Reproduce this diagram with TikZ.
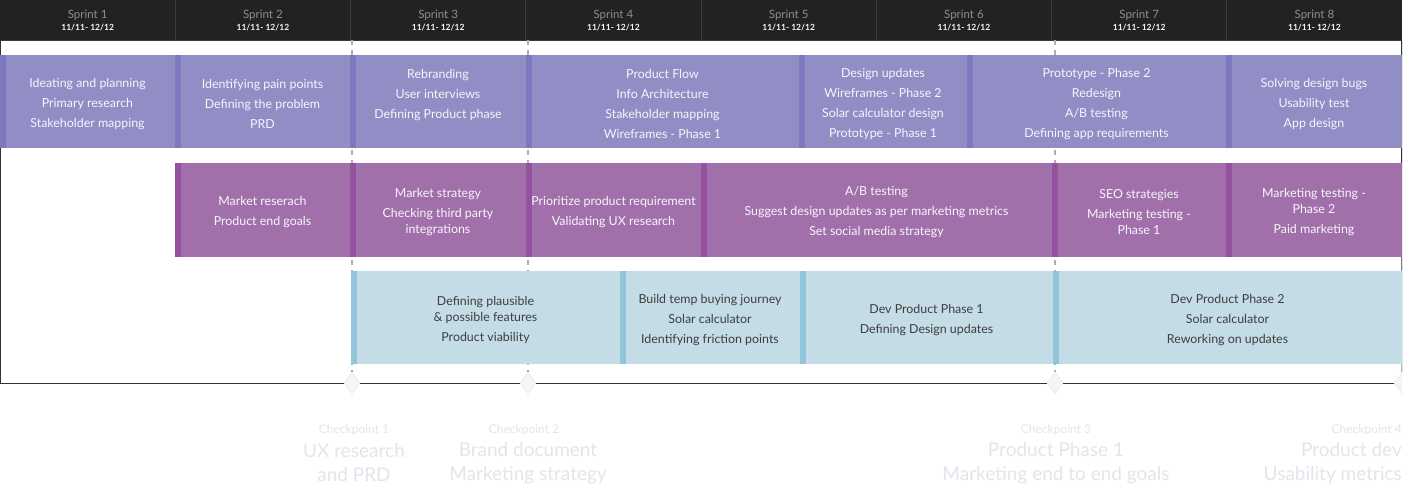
\documentclass[tikz,border=0pt]{standalone}
\usepackage{fontspec}
\setmainfont{Lato}
\usetikzlibrary{shapes.geometric}
\definecolor{hdr}{HTML}{222222}
\definecolor{hsep}{HTML}{3C3C3C}
\definecolor{hgray}{HTML}{8E8E8E}
\definecolor{pA}{HTML}{918DC5}
\definecolor{pAs}{HTML}{7F78C0}
\definecolor{pB}{HTML}{A170AA}
\definecolor{pBs}{HTML}{9550A0}
\definecolor{pC}{HTML}{C4DCE5}
\definecolor{pCs}{HTML}{92C4DA}
\definecolor{wtxt}{HTML}{F6F6FB}
\definecolor{dtxt}{HTML}{3E3E3E}
\definecolor{cktxt}{HTML}{E4E4EC}
\definecolor{dash}{HTML}{AEAEAE}
\definecolor{frame}{HTML}{333333}
\definecolor{dfill}{HTML}{F4F4F9}
\definecolor{dline}{HTML}{E4E4EC}
\tikzset{
  box/.style={anchor=north west, inner sep=0pt, outer sep=0pt},
  rowA/.style={box, fill=pA, minimum height=93pt,
    path picture={\fill[pAs] (path picture bounding box.north west) rectangle ([xshift=6pt]path picture bounding box.south west);}},
  rowB/.style={box, fill=pB, minimum height=94pt,
    path picture={\fill[pBs] (path picture bounding box.north west) rectangle ([xshift=6pt]path picture bounding box.south west);}},
  rowC/.style={box, fill=pC, minimum height=93pt,
    path picture={\fill[pCs] (path picture bounding box.north west) rectangle ([xshift=6pt]path picture bounding box.south west);}},
  btxt/.style={inner sep=0pt, align=center, font=\fontsize{12.4}{16}\selectfont, yshift=-2.5pt},
  wt/.style={btxt, text=wtxt},
  dt/.style={btxt, text=dtxt},
  hdrtxt/.style={align=center, inner sep=0pt, text=wtxt},
  ckline/.style={draw=dash, line width=1.8pt, dash pattern=on 5pt off 5pt},
  framel/.style={draw=frame, line width=1pt},
  diam/.style={diamond, draw=dline, fill=dfill, minimum width=16pt, minimum height=21pt, inner sep=0pt},
  cksmall/.style={text=cktxt, inner sep=0pt, font=\fontsize{12}{14}\selectfont},
  ckbig/.style={text=cktxt, inner sep=0pt, align=center, font=\fontsize{19}{24}\selectfont},
}
% #1 row style, #2 text style, #3 name, #4 x, #5 y, #6 width, #7 text
\newcommand\mkbox[7]{%
  \node[#1, minimum width=#6pt] (#3) at (#4,#5) {};
  \node[#2] (#3t) at (#3.center) {#7};
}
\begin{document}
\begin{tikzpicture}[x=1pt,y=-1pt]
\useasboundingbox[fill=white] (0,0) rectangle (1419,487);
\begin{scope}
\clip (0,0) rectangle (1402,487);
% header
\fill[hdr] (0,0) rectangle (1402,40);
\foreach \i in {1,...,7} {\draw[hsep, line width=0.8pt] ({175.25*\i},0) -- ({175.25*\i},40);}
\draw[hsep, line width=0.8pt] (0,40) -- (1402,40);
\foreach \i in {1,...,8} {
  \node[hdrtxt] (h\i) at ({175.25*\i-87.6},20.5)
    {{\color{hgray}\fontsize{11.5}{13}\selectfont Sprint \i}\\[0pt]{\fontsize{8.5}{10}\selectfont\bfseries 11/11- 12/12}};
}
% checkpoints: frame and diamonds
\coordinate (ftl) at (0.5,40);
\coordinate (ftr) at (1401.5,40);
\coordinate (c1) at (352,40);
\coordinate (c2) at (528,40);
\coordinate (c3) at (1055,40);
\node[diam] (d1) at (352,383) {};
\node[diam] (d2) at (528,383) {};
\node[diam] (d3) at (1055,383) {};
\node[diam] (d4) at (1402,383) {};
\coordinate (fbl) at (0.5,383);
\draw[framel] (ftl) -- (fbl) -- (d1.west);
\draw[framel] (d1.east) -- (d2.west);
\draw[framel] (d2.east) -- (d3.west);
\draw[framel] (d3.east) -- (d4.west);
\draw[framel] (ftr) -- (d4.north);
\draw[ckline] (c1) -- (d1.north);
\draw[ckline] (c2) -- (d2.north);
\draw[ckline] (c3) -- (d3.north);
% row A
\mkbox{rowA}{wt}{a1}{0}{55}{175}{Ideating and planning\\[4pt]Primary research\\[4pt]Stakeholder mapping}
\mkbox{rowA}{wt}{a2}{175}{55}{175}{Identifying pain points\\[4pt]Defining the problem\\[4pt]PRD}
\mkbox{rowA}{wt}{a3}{350}{55}{176}{Rebranding\\[4pt]User interviews\\[4pt]Defining Product phase\\[4pt]\phantom{X}}
\mkbox{rowA}{wt}{a4}{526}{55}{273}{Product Flow\\[4pt]Info Architecture\\[4pt]Stakeholder mapping\\[4pt]Wireframes - Phase 1}
\mkbox{rowA}{wt}{a5}{799}{55}{168}{Design updates\\[4pt]Wireframes - Phase 2\\[4pt]Solar calculator design\\[4pt]Prototype - Phase 1}
\mkbox{rowA}{wt}{a6}{967}{55}{259}{Prototype - Phase 2\\[4pt]Redesign\\[4pt]A/B testing\\[4pt]Defining app requirements}
\mkbox{rowA}{wt}{a7}{1226}{55}{176}{Solving design bugs\\[4pt]Usability test\\[4pt]App design}
% row B
\mkbox{rowB}{wt}{b1}{175}{163}{175}{Market reserach\\[4pt]Product end goals}
\mkbox{rowB}{wt}{b2}{350}{163}{176}{Market strategy\\[4pt]Checking third party\\integrations}
\mkbox{rowB}{wt}{b3}{526}{163}{175}{Prioritize product requirement\\[4pt]Validating UX research}
\mkbox{rowB}{wt}{b4}{701}{163}{351}{A/B testing\\[4pt]Suggest design updates as per marketing metrics\\[4pt]Set social media strategy}
\mkbox{rowB}{wt}{b5}{1052}{163}{174}{SEO strategies\\[4pt]Marketing testing -\\Phase 1}
\mkbox{rowB}{wt}{b6}{1226}{163}{176}{Marketing testing -\\Phase 2\\[4pt]Paid marketing}
% row C
\mkbox{rowC}{dt}{r1}{351}{271}{269}{Defining plausible\\\& possible features\\[4pt]Product viability}
\mkbox{rowC}{dt}{r2}{620}{271}{180}{Build temp buying journey\\[4pt]Solar calculator\\[4pt]Identifying friction points}
\mkbox{rowC}{dt}{r3}{800}{271}{253}{Dev Product Phase 1\\[4pt]Defining Design updates}
\mkbox{rowC}{dt}{r4}{1053}{271}{349}{Dev Product Phase 2\\[4pt]Solar calculator\\[4pt]Reworking on updates}
% checkpoint labels
\node[cksmall] (k1) at (354,430) {Checkpoint 1};
\node[ckbig] (k1t) at (354,463) {UX research\\and PRD};
\node[cksmall] (k2) at (524,430) {Checkpoint 2};
\node[ckbig] (k2t) at (528,463) {Brand document\\Marketing strategy};
\node[cksmall] (k3) at (1056,430) {Checkpoint 3};
\node[ckbig] (k3t) at (1056,463) {Product Phase 1\\Marketing end to end goals};
\node[cksmall, anchor=east] (k4) at (1402,430) {Checkpoint 4};
\node[ckbig, anchor=east, align=right] (k4t) at (1402,463) {Product dev\\Usability metrics};
\end{scope}
\end{tikzpicture}
\end{document}
